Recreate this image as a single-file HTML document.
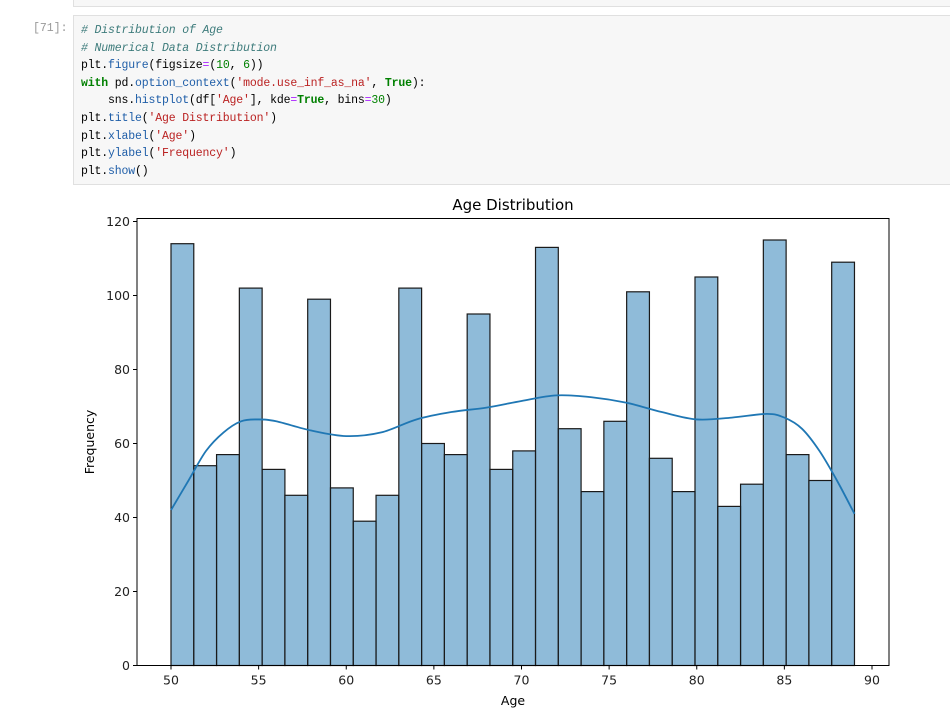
<!DOCTYPE html>
<html><head><meta charset="utf-8"><style>
body{margin:0;width:950px;height:713px;background:#fff;overflow:hidden;position:relative;font-family:"Liberation Sans",sans-serif}
.prev{position:absolute;left:73px;top:-2px;width:877px;height:7px;border:1px solid #e0e0e0;background:#f7f7f7}
.cell{position:absolute;left:73px;top:15px;width:876px;height:168px;border:1px solid #e0e0e0;background:#f7f7f7}
.prompt{position:absolute;left:33px;top:22px;color:#999;font:11.5px "Liberation Mono",monospace}
pre{margin:0;position:absolute;left:7px;top:6px;font:11.5px/17.6px "Liberation Mono",monospace;color:#000;letter-spacing:-0.15px}
.c{color:#3d7b7b;font-style:italic}.f{color:#1f5ea8}.s{color:#ba2121}.k{color:#008000;font-weight:bold}.n{color:#008000}.o{color:#aa22ff}
svg{position:absolute;left:0;top:0}
</style></head><body>
<div class="prev"></div>
<div class="prompt">[71]:</div>
<div class="cell"><pre><span class="c"># Distribution of Age</span>
<span class="c"># Numerical Data Distribution</span>
plt.<span class="f">figure</span>(figsize<span class="o">=</span>(<span class="n">10</span>, <span class="n">6</span>))
<span class="k">with</span> pd.<span class="f">option_context</span>(<span class="s">'mode.use_inf_as_na'</span>, <span class="k">True</span>):
    sns.<span class="f">histplot</span>(df[<span class="s">'Age'</span>], kde<span class="o">=</span><span class="k">True</span>, bins<span class="o">=</span><span class="n">30</span>)
plt.<span class="f">title</span>(<span class="s">'Age Distribution'</span>)
plt.<span class="f">xlabel</span>(<span class="s">'Age'</span>)
plt.<span class="f">ylabel</span>(<span class="s">'Frequency'</span>)
plt.<span class="f">show</span>()</pre></div>
<svg id="chart" width="950" height="713"></svg>
<script>
const counts=[114,54,57,102,53,46,99,48,39,46,102,60,57,95,53,58,113,64,47,66,101,56,47,105,43,49,115,57,50,109];
const binStart=50, binEnd=89;
const kdeX=[50,51,52,53,54,55,56,58,60,62,64,66,68,70,72,74,76,78,80,82,84,85,86,87,88,89];
const kdeY=[42,50,58,63,66,66.5,66,63.5,62,63,66.5,68.5,69.7,71.5,73,72.5,71,68.5,66.5,67,68,67,64,58,50,41];
const xTicks=[50,55,60,65,70,75,80,85,90];
const yTicks=[0,20,40,60,80,100,120];
const NS='http://www.w3.org/2000/svg';
const svg=document.getElementById('chart');
const L=137,R=889,T=218.5,B=665.5;
const xs=v=>171+(v-50)*(872-171)/40;
const ys=v=>B-v*3.7;
function mk(t,a){const e=document.createElementNS(NS,t);for(const k in a)e.setAttribute(k,a[k]);svg.appendChild(e);return e;}
const w=(binEnd-binStart)/counts.length;
counts.forEach((c,i)=>{
 const x0=xs(binStart+i*w),x1=xs(binStart+(i+1)*w);
 const r=mk('rect',{x:x0,y:ys(c),width:x1-x0,height:B-ys(c),fill:'rgba(31,119,180,0.5)',stroke:'#1a1a1a','stroke-width':1.2});
 
 
});
const pts=kdeX.map((x,i)=>[xs(x),ys(kdeY[i])]);
let d='M'+pts[0][0]+','+pts[0][1];
for(let i=0;i<pts.length-1;i++){
 const p0=pts[Math.max(0,i-1)],p1=pts[i],p2=pts[i+1],p3=pts[Math.min(pts.length-1,i+2)];
 const c1=[p1[0]+(p2[0]-p0[0])/6,p1[1]+(p2[1]-p0[1])/6];
 const c2=[p2[0]-(p3[0]-p1[0])/6,p2[1]-(p3[1]-p1[1])/6];
 d+='C'+c1.join(',')+' '+c2.join(',')+' '+p2.join(',');
}
const p=mk('path',{d:d,fill:'none',stroke:'#1f77b4','stroke-width':1.8,'stroke-linejoin':'round'});


const fr=mk('rect',{x:L,y:T,width:R-L,height:B-T,fill:'none',stroke:'#000','stroke-width':1});


xTicks.forEach(v=>{
 mk('line',{x1:xs(v),x2:xs(v),y1:B,y2:B+4,stroke:'#000'});
 const t=mk('text',{x:xs(v),y:B+19,'text-anchor':'middle','font-size':12.5,fill:'#222','font-family':'DejaVu Sans'});t.textContent=v;
 
 
});
yTicks.forEach(v=>{
 mk('line',{x1:L-4,x2:L,y1:ys(v),y2:ys(v),stroke:'#000'});
 const t=mk('text',{x:L-7,y:ys(v)+4.5,'text-anchor':'end','font-size':12.5,fill:'#222','font-family':'DejaVu Sans'});t.textContent=v;
 
 
});
let t=mk('text',{x:513,y:210,'text-anchor':'middle','font-size':15,fill:'#000','font-family':'DejaVu Sans'});t.textContent='Age Distribution';


t=mk('text',{x:513,y:705,'text-anchor':'middle','font-size':12.5,fill:'#000','font-family':'DejaVu Sans'});t.textContent='Age';


t=mk('text',{x:94,y:442,'text-anchor':'middle','font-size':12.5,fill:'#000','font-family':'DejaVu Sans',transform:'rotate(-90 94 442)'});t.textContent='Frequency';


</script>
</body></html>
